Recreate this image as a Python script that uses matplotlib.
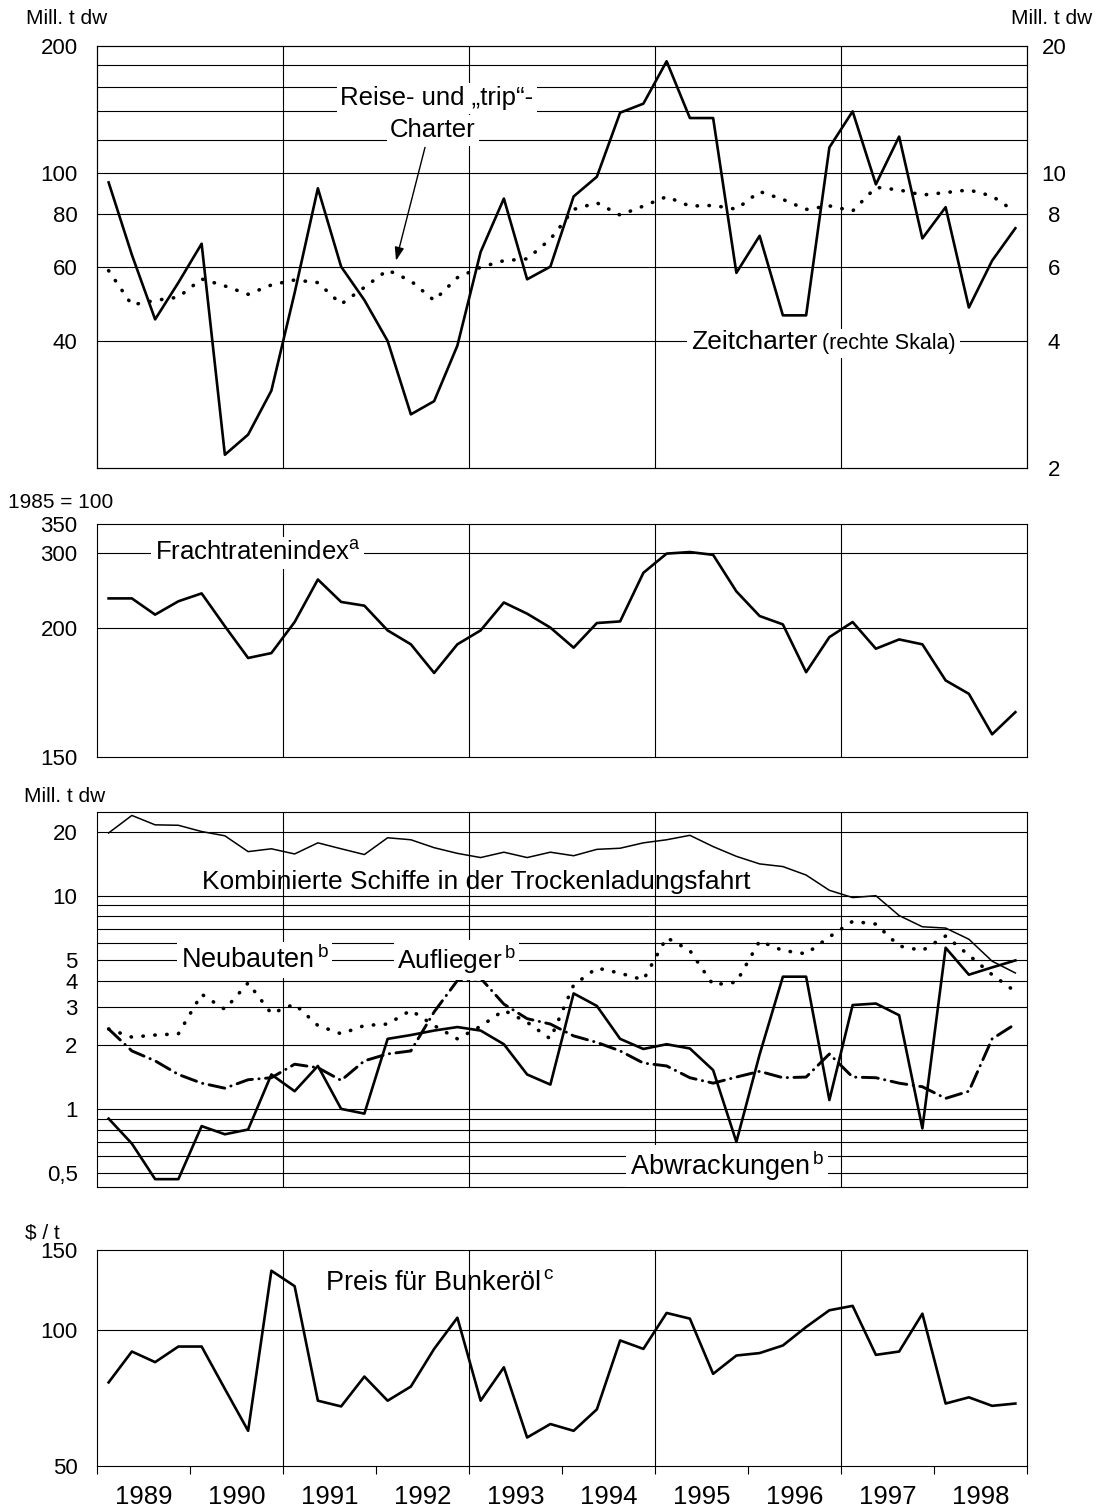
"""
Trockenladungsfahrt: Charter, Frachtraten, Flotte und Bunkerölpreis 1989-1998
"""
import numpy as np
import matplotlib
matplotlib.use('Agg')
import matplotlib.pyplot as plt
from matplotlib.ticker import FixedLocator, FixedFormatter, NullLocator

plt.rcParams['font.family'] = ['Liberation Sans', 'DejaVu Sans']
plt.rcParams['mathtext.fontset'] = 'custom'
plt.rcParams['mathtext.rm'] = 'Liberation Sans'

# Quartalswerte 1989 Q1 .. 1998 Q4
quarters = 1989.125 + 0.25 * np.arange(40)
years = list(range(1989, 1999))

# Panel 1 (Mill. t dw)
reise_trip = [58.7, 48.7, 49.9, 50.8, 56.1, 54.0, 51.6, 54.3, 55.8, 55.0,
              48.9, 53.6, 58.9, 55.5, 49.9, 56.5, 59.8, 62.0, 62.6, 69.7,
              82.0, 85.0, 79.5, 83.5, 87.9, 83.5, 83.8, 82.1, 90.4, 86.6,
              82.0, 83.6, 81.3, 92.5, 91.2, 88.7, 89.9, 91.2, 88.2, 80.9]
zeitcharter = [9.5, 6.4, 4.5, 5.5, 6.8, 2.15, 2.4, 3.05, 5.2, 9.2,
               6.0, 5.0, 4.0, 2.68, 2.88, 3.9, 6.5, 8.7, 5.6, 6.0,
               8.8, 9.8, 13.9, 14.6, 18.4, 13.5, 13.5, 5.8, 7.1, 4.6,
               4.6, 11.5, 14.0, 9.4, 12.2, 7.0, 8.3, 4.8, 6.2, 7.4]

# Panel 2 (1985 = 100)
frachtrate = [234.6, 234.6, 215.0, 231.0, 241.0, 202.0, 188.4, 190.3, 206.6, 259.7,
              230.2, 225.6, 199.1, 193.7, 182.6, 193.7, 199.1, 229.5, 216.1, 200.5,
              192.4, 205.5, 207.3, 269.2, 298.5, 301.0, 296.5, 243.6, 213.4, 204.0,
              182.9, 196.5, 206.6, 192.0, 195.6, 193.7, 179.7, 174.5, 158.8, 167.4]

# Panel 3 (Mill. t dw)
kombiniert = [19.7, 23.8, 21.5, 21.4, 20.0, 19.1, 16.1, 16.6, 15.7, 17.7,
              16.6, 15.6, 18.7, 18.3, 16.8, 15.8, 15.1, 16.0, 15.1, 16.0,
              15.4, 16.5, 16.7, 17.7, 18.3, 19.2, 17.0, 15.3, 14.1, 13.7,
              12.5, 10.6, 9.8, 10.0, 8.07, 7.15, 7.05, 6.25, 4.93, 4.34]
neubauten = [2.37, 2.17, 2.22, 2.25, 3.45, 2.93, 3.9, 2.8, 3.1, 2.46,
             2.25, 2.46, 2.5, 2.9, 2.46, 2.13, 2.44, 2.9, 2.55, 2.13,
             3.81, 4.58, 4.33, 4.03, 6.36, 5.53, 3.82, 3.93, 6.13, 5.53,
             5.34, 6.41, 7.58, 7.36, 5.81, 5.53, 6.47, 5.26, 4.26, 3.55]
auflieger = [2.37, 1.87, 1.68, 1.45, 1.32, 1.25, 1.37, 1.40, 1.62, 1.56,
             1.36, 1.68, 1.81, 1.87, 2.85, 4.0, 4.1, 3.1, 2.65, 2.5,
             2.2, 2.05, 1.87, 1.64, 1.59, 1.40, 1.32, 1.41, 1.50, 1.40,
             1.41, 1.81, 1.41, 1.40, 1.32, 1.27, 1.12, 1.21, 2.13, 2.5]
abwrackungen = [0.90, 0.687, 0.468, 0.468, 0.83, 0.76, 0.80, 1.45, 1.21, 1.59,
                1.0, 0.95, 2.13, 2.22, 2.33, 2.42, 2.33, 2.01, 1.45, 1.30,
                3.48, 3.04, 2.13, 1.91, 2.01, 1.92, 1.52, 0.70, 1.8, 4.17,
                4.17, 1.10, 3.07, 3.12, 2.75, 0.81, 5.7, 4.26, 4.61, 4.97]

# Panel 4 ($ / t)
bunkeroel = [76.5, 89.5, 84.8, 91.8, 91.8, 74.0, 59.8, 135.0, 124.8, 69.7,
             67.7, 78.8, 69.7, 74.9, 90.7, 106.3, 69.7, 82.6, 57.8, 61.9,
             59.8, 66.7, 94.7, 90.7, 108.9, 105.8, 79.9, 87.7, 88.8, 92.3,
             101.4, 110.4, 112.9, 88.0, 89.5, 108.5, 68.7, 70.9, 67.9, 68.7]

W, H = 1101, 1510
LEFT, RIGHT = 97, 1027
TICK_FS = 16
LABEL_FS = 15
DOTS = (0, (0.1, 3.2))
WHITE = dict(facecolor='white', edgecolor='none', pad=2.5)


def panel(top, bottom):
    return fig.add_axes([LEFT / W, 1 - bottom / H, (RIGHT - LEFT) / W, (bottom - top) / H])


def xpos(px):
    return 1989 + (px - LEFT) / 93.0


def style_axis(ax, ticks, labels, grid):
    ax.set_xlim(1989, 1999)
    ax.yaxis.set_major_locator(FixedLocator(ticks))
    ax.yaxis.set_major_formatter(FixedFormatter(labels))
    ax.yaxis.set_minor_locator(NullLocator())
    ax.tick_params(axis='y', length=0, pad=14, labelsize=TICK_FS)
    ax.tick_params(axis='x', which='both', bottom=False, labelbottom=False)
    for v in grid:
        ax.axhline(v, color='black', lw=0.8, zorder=1)
    for yr in (1991, 1993, 1995, 1997):
        ax.axvline(yr, color='black', lw=0.8, zorder=1)
    for sp in ax.spines.values():
        sp.set_linewidth(0.8)


fig = plt.figure(figsize=(W / 100, H / 100), dpi=100)

# ---- Panel 1: Charter ----
ax1 = panel(46, 468)
ax1.set_yscale('log')
ax1.set_ylim(20, 200)
style_axis(ax1, [40, 60, 80, 100, 200], ['40', '60', '80', '100', '200'],
           [40, 60, 80, 100, 120, 140, 160, 180])
ax1.plot(quarters, reise_trip, color='black', lw=2.6, linestyle=DOTS,
         dash_capstyle='round', zorder=3)

ax1r = ax1.twinx()
ax1r.set_yscale('log')
ax1r.set_ylim(2, 20)
ax1r.yaxis.set_major_locator(FixedLocator([2, 4, 6, 8, 10, 20]))
ax1r.yaxis.set_major_formatter(FixedFormatter(['2', '4', '6', '8', '10', '20']))
ax1r.yaxis.set_minor_locator(NullLocator())
ax1r.tick_params(axis='y', length=0, pad=19.5, labelsize=TICK_FS)
plt.setp(ax1r.get_yticklabels(), ha='center')
ax1r.plot(quarters, zeitcharter, color='black', lw=1.9, zorder=3)

ax1r.text(xpos(437), 15.05, 'Reise- und „trip“-', ha='center', va='center',
          fontsize=18.5, bbox=WHITE, zorder=5)
ax1r.text(xpos(433), 12.64, 'Charter', ha='center', va='center',
          fontsize=18.5, bbox=WHITE, zorder=5)
ax1.annotate('', xy=(xpos(396), 62), xytext=(xpos(425), 115),
             arrowprops=dict(arrowstyle='-|>,head_length=0.8,head_width=0.28',
                             color='black', lw=1, shrinkA=0, shrinkB=0), zorder=5)
ax1r.text(xpos(818), 3.83, 'Zeitcharter', ha='right', va='baseline',
          fontsize=19, bbox=dict(facecolor='white', edgecolor='none', pad=3), zorder=5)
ax1r.text(xpos(822), 3.83, '(rechte Skala)', ha='left', va='baseline',
          fontsize=15.5, bbox=dict(facecolor='white', edgecolor='none', pad=3), zorder=5)

# ---- Panel 2: Frachtratenindex ----
LOG2 = np.log10(2.0)
LOG200 = np.log10(200.0)


def fr_forward(v):
    v = np.asarray(v, dtype=float)
    lo = LOG200 - (200.0 - v) / 50.0 * LOG2
    hi = np.log10(np.where(v > 0, v, 1.0))
    return np.where(v >= 200, hi, lo)


def fr_inverse(u):
    u = np.asarray(u, dtype=float)
    lo = 200.0 - (LOG200 - u) / LOG2 * 50.0
    return np.where(u >= LOG200, 10 ** np.minimum(u, 10), lo)


ax2 = panel(524, 757)
ax2.set_yscale('function', functions=(fr_forward, fr_inverse))
ax2.set_ylim(150, 350)
style_axis(ax2, [150, 200, 300, 350], ['150', '200', '300', '350'], [200, 300])
ax2.plot(quarters, frachtrate, color='black', lw=1.9, zorder=3)
ax2.text(xpos(155), 300, r'Frachtratenindex$^{\mathrm{a}}$', ha='left', va='center',
         fontsize=18.5, bbox=WHITE, zorder=5)

# ---- Panel 3: Flotte ----
ax3 = panel(812, 1187)
ax3.set_yscale('log')
ax3.set_ylim(0.43, 24.7)
style_axis(ax3, [0.5, 1, 2, 3, 4, 5, 10, 20], ['0,5', '1', '2', '3', '4', '5', '10', '20'],
           [0.5, 0.6, 0.7, 0.8, 0.9, 1, 2, 3, 4, 5, 6, 7, 8, 9, 10, 20])
ax3.plot(quarters, kombiniert, color='black', lw=1.1, zorder=3)
ax3.plot(quarters, neubauten, color='black', lw=2.6, linestyle=DOTS,
         dash_capstyle='round', zorder=3)
ax3.plot(quarters, auflieger, color='black', lw=2.1, linestyle=(0, (5.5, 2.2, 0.1, 2.2)),
         dash_capstyle='round', zorder=3)
ax3.plot(quarters, abwrackungen, color='black', lw=1.9, zorder=3)
ax3.text(xpos(476), 11.6, 'Kombinierte Schiffe in der Trockenladungsfahrt',
         ha='center', va='center', fontsize=19, zorder=5)
ax3.text(xpos(181), 5, r'Neubauten$^{\,\mathrm{b}}$', ha='left', va='center',
         fontsize=19.5, bbox=WHITE, zorder=5)
ax3.text(xpos(397), 5, r'Auflieger$^{\,\mathrm{b}}$', ha='left', va='center',
         fontsize=19, bbox=WHITE, zorder=5)
ax3.text(xpos(630), 0.54, r'Abwrackungen$^{\,\mathrm{b}}$', ha='left', va='center',
         fontsize=19.5, bbox=WHITE, zorder=5)

# ---- Panel 4: Bunkeröl ----
ax4 = panel(1250, 1466)
ax4.set_yscale('log')
ax4.set_ylim(50, 150)
style_axis(ax4, [50, 100, 150], ['50', '100', '150'], [100])
ax4.plot(quarters, bunkeroel, color='black', lw=1.9, zorder=3)
ax4.text(xpos(325), 126.9, r'Preis für Bunkeröl$^{\,\mathrm{c}}$', ha='left', va='center',
         fontsize=19.5, zorder=5)

ax4.xaxis.set_major_locator(FixedLocator(list(range(1989, 2000))))
ax4.xaxis.set_major_formatter(FixedFormatter([''] * 11))
ax4.xaxis.set_minor_locator(FixedLocator([y + 0.5 for y in years]))
ax4.xaxis.set_minor_formatter(FixedFormatter([str(y) for y in years]))
ax4.tick_params(axis='x', which='major', bottom=True, direction='out', length=6, width=0.8)
ax4.tick_params(axis='x', which='minor', bottom=True, labelbottom=True, length=0,
                pad=14, labelsize=18.5)

# Achsenbeschriftungen
fig.text(26 / W, 1 - 18 / H, 'Mill. t dw', ha='left', va='center', fontsize=LABEL_FS)
fig.text(1092 / W, 1 - 18 / H, 'Mill. t dw', ha='right', va='center', fontsize=LABEL_FS)
fig.text(8 / W, 1 - 503 / H, '1985 = 100', ha='left', va='center', fontsize=LABEL_FS)
fig.text(24 / W, 1 - 797 / H, 'Mill. t dw', ha='left', va='center', fontsize=LABEL_FS)
fig.text(25 / W, 1 - 1233 / H, r'\$ / t', ha='left', va='center', fontsize=LABEL_FS)

fig.savefig('out.png', dpi=100)
